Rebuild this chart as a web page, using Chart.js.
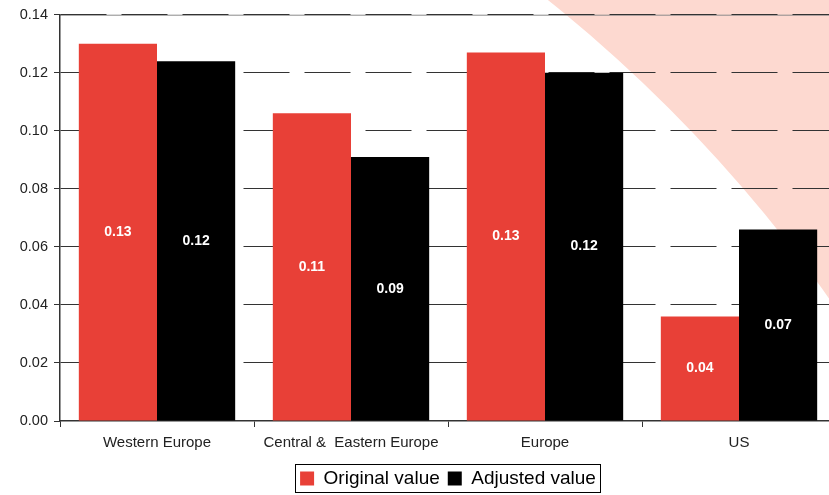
<!DOCTYPE html>
<html lang="en">
<head>
  <meta charset="UTF-8">
  <title>Original vs adjusted value</title>
  <script src="https://cdn.jsdelivr.net/npm/chart.js"></script>
  <style>
    html, body {
      margin: 0;
      padding: 0;
      background: #fff;
      overflow: hidden;
    }
    .wrap {
      width: 829px;
      height: 495px;
      overflow: hidden;
    }
  </style>
</head>
<body>
  <div class="wrap">
    <canvas id="valueChart" width="836" height="498"></canvas>
  </div>

  <script>
    const regions = ['Western Europe', 'Central &  Eastern Europe', 'Europe', 'US'];
    const originalValue = [0.130, 0.106, 0.127, 0.036];
    const adjustedValue = [0.124, 0.091, 0.120, 0.066];
    const yTicks = [0, 0.02, 0.04, 0.06, 0.08, 0.10, 0.12, 0.14];

    const FONT = '"Liberation Sans", Arial, sans-serif';

    // pale arc in the upper right corner + solid line along the top of the plot
    const backdrop = {
      id: 'backdrop',
      beforeDraw(chart) {
        const ctx = chart.ctx;
        const area = chart.chartArea;
        ctx.save();
        ctx.fillStyle = '#fdd9d0';
        ctx.beginPath();
        ctx.rect(0, 0, chart.width, chart.height);
        ctx.arc(-360, 1137, 1455, 0, Math.PI * 2, true);
        ctx.fill('evenodd');
        ctx.strokeStyle = '#8a8a8a';
        ctx.lineWidth = 1;
        ctx.beginPath();
        ctx.moveTo(area.left, area.top + 0.5);
        ctx.lineTo(area.right, area.top + 0.5);
        ctx.stroke();
        ctx.restore();
      }
    };

    // white value labels in the middle of each bar
    const barLabels = {
      id: 'barLabels',
      afterDatasetsDraw(chart) {
        const ctx = chart.ctx;
        ctx.save();
        ctx.font = 'bold 14px ' + FONT;
        ctx.fillStyle = '#fff';
        ctx.textAlign = 'center';
        ctx.textBaseline = 'middle';
        chart.data.datasets.forEach((ds, di) => {
          chart.getDatasetMeta(di).data.forEach((bar, i) => {
            ctx.fillText(ds.data[i].toFixed(2), bar.x, (bar.y + bar.base) / 2);
          });
        });
        ctx.restore();
      }
    };

    // thin frame round the legend
    const legendFrame = {
      id: 'legendFrame',
      afterDraw(chart) {
        const boxes = chart.legend.legendHitBoxes;
        if (!boxes || !boxes.length) return;
        const left = Math.min(...boxes.map(b => b.left)) - 5;
        const right = Math.max(...boxes.map(b => b.left + b.width)) + 4;
        const top = Math.min(...boxes.map(b => b.top)) - 5;
        const bottom = Math.max(...boxes.map(b => b.top + b.height)) + 4;
        const ctx = chart.ctx;
        ctx.save();
        ctx.strokeStyle = '#000';
        ctx.lineWidth = 1;
        ctx.strokeRect(Math.round(left) + 0.5, Math.round(top) + 0.5,
                       Math.round(right - left), Math.round(bottom - top));
        ctx.restore();
      }
    };

    const ctx = document.getElementById('valueChart').getContext('2d');
    new Chart(ctx, {
      type: 'bar',
      data: {
        labels: regions,
        datasets: [
          {
            label: 'Original value',
            data: originalValue,
            backgroundColor: '#e84037',
            categoryPercentage: 0.806,
            barPercentage: 1.0
          },
          {
            label: 'Adjusted value',
            data: adjustedValue,
            backgroundColor: '#000000',
            categoryPercentage: 0.806,
            barPercentage: 1.0
          }
        ]
      },
      options: {
        responsive: false,
        animation: false,
        layout: { padding: { top: 14, right: 0, bottom: 0, left: 0 } },
        plugins: {
          tooltip: { enabled: false },
          legend: {
            position: 'bottom',
            fullSize: false,
            labels: {
              color: '#000',
              font: { family: FONT, size: 19 },
              boxWidth: 14,
              boxHeight: 14,
              padding: 8
            }
          }
        },
        scales: {
          x: {
            grid: {
              offset: true,
              drawOnChartArea: false,
              drawTicks: true,
              tickLength: 6,
              color: '#333'
            },
            border: { color: '#333', width: 1.5 },
            ticks: {
              color: '#222',
              font: { family: FONT, size: 15 },
              padding: 7,
              maxRotation: 0
            },
            afterFit(scale) { scale.height = 40; }
          },
          y: {
            min: 0,
            max: 0.14,
            afterBuildTicks(scale) {
              scale.ticks = yTicks.map(v => ({ value: v }));
            },
            grid: {
              // the zero line is the x axis itself
              color: c => (c.tick && c.tick.value === 0) ? 'rgba(0,0,0,0)' : '#333',
              tickColor: '#333',
              lineWidth: 1,
              tickBorderDash: [],
              tickLength: 6
            },
            border: { color: '#333', width: 1.5, dash: [46, 15] },
            ticks: {
              color: '#222',
              font: { family: FONT, size: 14.5 },
              padding: 6,
              callback: v => v.toFixed(2)
            },
            afterFit(scale) { scale.width = 60; }
          }
        }
      },
      plugins: [backdrop, barLabels, legendFrame]
    });
  </script>
</body>
</html>
